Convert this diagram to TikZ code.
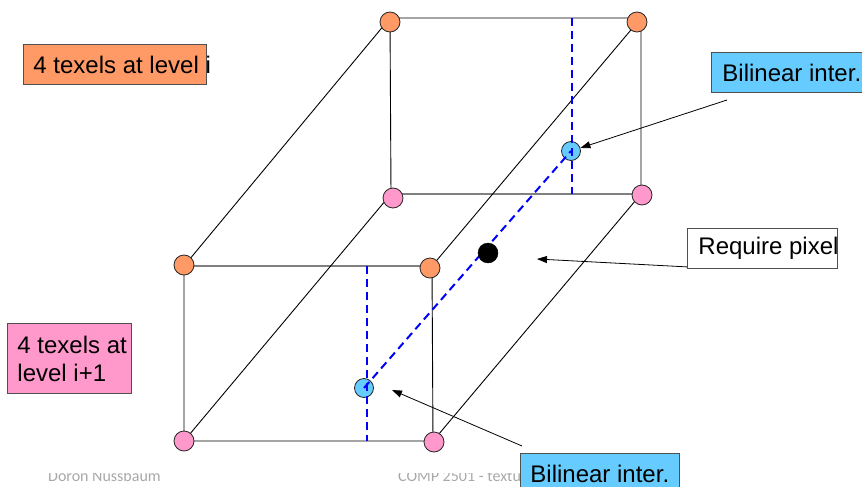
\documentclass[tikz,border=0pt]{standalone}
\usepackage{fontspec}
\setmainfont{Liberation Sans}
\newfontfamily\footfont{Carlito}
\usetikzlibrary{arrows.meta}
\definecolor{texorange}{HTML}{FF9966}
\definecolor{texpink}{HTML}{FF99CC}
\definecolor{texblue}{HTML}{66CCFF}
\definecolor{edgegray}{HTML}{808080}
\definecolor{boxborder}{HTML}{505050}
\definecolor{footgray}{HTML}{A8A8A8}
\begin{document}
\begin{tikzpicture}[x=1pt,y=-1pt,
  cubeedge/.style={black, line width=0.9pt},
  grayedge/.style={edgegray, line width=1.6pt},
  guideline/.style={blue, line width=2pt, dash pattern=on 8pt off 5pt},
  texel/.style={circle, draw=black!85, line width=0.8pt, minimum size=20pt, inner sep=0pt},
  orangetex/.style={texel, fill=texorange},
  pinktex/.style={texel, fill=texpink},
  sampletex/.style={texel, fill=texblue, minimum size=19pt},
  pixeltex/.style={circle, fill=black, draw=black, minimum size=20pt, inner sep=0pt},
  tagbox/.style={draw=boxborder, line width=0.9pt, font=\fontsize{24}{28}\selectfont, inner sep=0pt, anchor=north west, minimum height=40pt},
  pointer/.style={black, line width=0.8pt, -{Triangle[length=10pt,width=7pt]}},
  foottext/.style={font=\footfont\fontsize{16}{18}\selectfont, text=footgray, inner sep=0pt, anchor=base west},
]
\clip (0,0) rectangle (862,487);
\useasboundingbox (0,0) rectangle (862,487);

% footer (only its lower part shows)
\begin{scope}
\clip (0,473) rectangle (862,487);
\node[foottext] (foot1) at (48,481) {Doron Nussbaum};
\node[foottext] (foot2) at (398,481) {COMP 2501 - texture};
\end{scope}

% cube corners
\coordinate (b1) at (390,18);
\coordinate (b2) at (641,18);
\coordinate (b3) at (641,194);
\coordinate (b4) at (391,194);
\coordinate (f1) at (184,266);
\coordinate (f2) at (432,266);
\coordinate (f3) at (433,441);
\coordinate (f4) at (184,441);

% edges
\draw[cubeedge] (b4) -- (b1) -- (b2) -- (b3);
\draw[grayedge] (b4) -- (b3);
\draw[grayedge] (f1) -- (f2);
\draw[cubeedge] (f2) -- (f3) -- (f4) -- (f1);
\draw[cubeedge] (b1) -- (f1);
\draw[cubeedge] (b2) -- (f2);
\draw[cubeedge] (b4) -- (f4);
\draw[cubeedge] (b3) -- (f3);

% texels
\node[orangetex] (o1) at (390,22) {};
\node[orangetex] (o2) at (637,22) {};
\node[orangetex] (o3) at (184,265) {};
\node[orangetex] (o4) at (430,268) {};
\node[pinktex] (p1) at (393,198) {};
\node[pinktex] (p2) at (642,195) {};
\node[pinktex] (p3) at (184,441) {};
\node[pinktex] (p4) at (434,442) {};

% interpolated samples
\node[sampletex] (s1) at (571,151) {};
\node[sampletex] (s2) at (364,388) {};

% dashed guides
\coordinate (dt) at (572,18);
\coordinate (db) at (572,194);
\coordinate (ft) at (367,266);
\coordinate (fb) at (367,441);
\draw[guideline] (dt) -- (db);
\draw[guideline] (ft) -- (fb);
\draw[guideline] (s2.center) -- (s1.center);

% required pixel
\node[pixeltex] (px) at (488,253) {};

% label boxes
\node[tagbox, fill=texorange, minimum width=183pt] (lvli) at (23,44)
  {\hspace*{10pt}\makebox[173pt][l]{4 texels at level i}};
\node[tagbox, fill=texblue] (bil1) at (711,52)
  {\hspace*{11pt}Bilinear inter.\hspace*{11pt}};
\node[tagbox, fill=white, minimum width=150pt] (req) at (687,228)
  {\hspace*{10pt}\makebox[138pt][l]{Require pixel}};
\node[tagbox, fill=texpink, minimum width=124pt, minimum height=70pt] (lvli1) at (7,323)
  {\hspace*{10pt}\parbox{114pt}{4 texels at\\level i+1}};
\node[tagbox, fill=texblue] (bil2) at (520,453)
  {\hspace*{10pt}Bilinear inter.\hspace*{10pt}};

% pointers
\coordinate (a1) at (727,100);
\coordinate (rp) at (537,259);
\coordinate (bt) at (522,446);
\coordinate (bp) at (392,390);
\draw[pointer] (a1) -- (s1.18);
\draw[pointer] ([yshift=2pt]req.south west) -- (rp);
\draw[pointer] (bt) -- (bp);
\end{tikzpicture}
\end{document}
